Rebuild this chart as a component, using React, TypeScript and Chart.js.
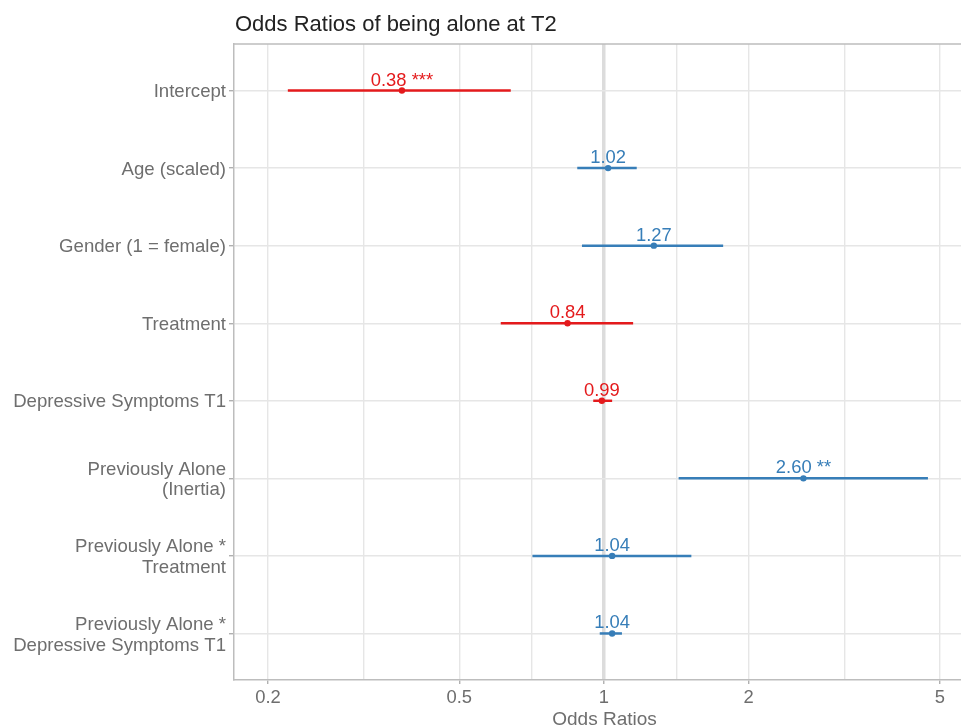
import { useEffect, useRef } from "react";
import { Chart, registerables } from "chart.js";

Chart.register(...registerables);

// Model terms, top to bottom
const termLabels: string[][] = [
  ["Intercept"],
  ["Age (scaled)"],
  ["Gender (1 = female)"],
  ["Treatment"],
  ["Depressive Symptoms T1"],
  ["Previously Alone", "(Inertia)"],
  ["Previously Alone *", "Treatment"],
  ["Previously Alone *", "Depressive Symptoms T1"],
];

// Estimates and 95% confidence intervals (odds ratio scale)
const oddsRatios = [0.38, 1.02, 1.27, 0.84, 0.99, 2.6, 1.04, 1.04];
const ciLow = [0.22, 0.88, 0.9, 0.61, 0.95, 1.43, 0.71, 0.98];
const ciHigh = [0.64, 1.17, 1.77, 1.15, 1.04, 4.72, 1.52, 1.09];
const significance = ["***", "", "", "", "", "**", "", ""];

// Log-scale breaks; minor grid lines sit halfway between majors (geometric mean)
const majorBreaks = [0.2, 0.5, 1, 2, 5];
const minorBreaks = majorBreaks.slice(1).map((b, i) => Math.sqrt(b * majorBreaks[i]));

const X_MIN = 0.17;
const X_MAX = 5.53;

const RED = "#e41a1c";
const BLUE = "#377eb8";
const GRID = "#e6e6e6";
const AXIS_LINE = "#bdbdbd";
const TEXT_GREY = "#6e6e6e";
const FONT = "'Liberation Sans', Arial, Helvetica, sans-serif";

const colorFor = (v: number) => (v < 1 ? RED : BLUE);

const annotations = {
  id: "forestAnnotations",
  afterDatasetsDraw(chart: any) {
    const { ctx, scales, chartArea } = chart;
    const xs = scales.x;
    const ys = scales.y;
    ctx.save();
    // value labels above each estimate
    ctx.font = `18.4px ${FONT}`;
    ctx.textAlign = "center";
    ctx.textBaseline = "alphabetic";
    oddsRatios.forEach((v, i) => {
      const px = xs.getPixelForValue(v);
      const py = ys.getPixelForValue(i);
      ctx.fillStyle = colorFor(v);
      const txt = v.toFixed(2) + (significance[i] ? " " + significance[i] : "");
      ctx.fillText(txt, px, py - 5);
    });
    // top panel edge
    ctx.strokeStyle = AXIS_LINE;
    ctx.lineWidth = 1.5;
    ctx.beginPath();
    ctx.moveTo(chartArea.left, chartArea.top);
    ctx.lineTo(chartArea.right, chartArea.top);
    ctx.stroke();
    ctx.restore();
  },
  afterDraw(chart: any) {
    const { ctx } = chart;
    ctx.save();
    ctx.fillStyle = "#222222";
    ctx.font = `22px ${FONT}`;
    ctx.textAlign = "left";
    ctx.textBaseline = "alphabetic";
    ctx.fillText("Odds Ratios of being alone at T2", 235, 31);
    ctx.fillStyle = TEXT_GREY;
    ctx.font = `19px ${FONT}`;
    ctx.textAlign = "center";
    ctx.fillText("Odds Ratios", 604.5, 725);
    ctx.restore();
  },
};

export default function App() {
  const canvasRef = useRef<HTMLCanvasElement | null>(null);

  useEffect(() => {
    const canvas = canvasRef.current;
    if (!canvas) return;

    const intervalSets = oddsRatios.map((v, i) => ({
      type: "scatter" as const,
      data: [
        { x: ciLow[i], y: i },
        { x: ciHigh[i], y: i },
      ],
      showLine: true,
      borderColor: colorFor(v),
      borderWidth: 2.5,
      pointRadius: 0,
      pointHoverRadius: 0,
    }));

    const pointSet = {
      type: "scatter" as const,
      data: oddsRatios.map((v, i) => ({ x: v, y: i })),
      pointBackgroundColor: oddsRatios.map(colorFor),
      pointBorderWidth: 0,
      pointRadius: 3.2,
      showLine: false,
    };

    const chart = new Chart(canvas, {
      type: "scatter",
      data: { datasets: [...intervalSets, pointSet] as any },
      options: {
        animation: false,
        responsive: false,
        devicePixelRatio: 1,
        layout: { autoPadding: false, padding: { top: 44, left: 0, right: 0, bottom: 0 } },
        plugins: {
          legend: { display: false },
          tooltip: { enabled: false },
          title: { display: false },
        },
        scales: {
          x: {
            type: "logarithmic",
            min: X_MIN,
            max: X_MAX,
            afterBuildTicks: (scale: any) => {
              scale.ticks = [...majorBreaks, ...minorBreaks]
                .sort((a, b) => a - b)
                .map((value) => ({ value }));
            },
            afterFit: (scale: any) => {
              scale.height = 48;
            },
            ticks: {
              autoSkip: false,
              maxRotation: 0,
              padding: 3,
              color: TEXT_GREY,
              font: { family: FONT, size: 18.4 },
              callback: (value: any) =>
                majorBreaks.includes(Number(value)) ? String(value) : "",
            },
            grid: {
              color: (c: any) => (c.tick && c.tick.value === 1 ? "#dcdcdc" : GRID),
              lineWidth: (c: any) => (c.tick && c.tick.value === 1 ? 3.5 : 1.4),
              tickLength: 4,
              tickWidth: 1.4,
              tickColor: (c: any) =>
                c.tick && majorBreaks.includes(c.tick.value) ? "#b0b0b0" : "rgba(0,0,0,0)",
            },
            border: { display: true, color: AXIS_LINE, width: 1.5 },
          },
          y: {
            type: "linear",
            reverse: true,
            min: -0.6,
            max: 7.6,
            afterBuildTicks: (scale: any) => {
              scale.ticks = termLabels.map((_, i) => ({ value: i }));
            },
            afterFit: (scale: any) => {
              scale.width = 234;
            },
            ticks: {
              autoSkip: false,
              padding: 3,
              labelOffset: 1.5,
              color: TEXT_GREY,
              font: { family: FONT, size: 18.6, lineHeight: 1.12 },
              callback: (value: any) => termLabels[Number(value)] ?? "",
            },
            grid: {
              color: GRID,
              lineWidth: 1.4,
              tickLength: 5,
              tickWidth: 1.4,
              tickColor: "#b0b0b0",
            },
            border: { display: true, color: AXIS_LINE, width: 1.5 },
          },
        },
      },
      plugins: [annotations],
    });

    return () => chart.destroy();
  }, []);

  return (
    <div style={{ position: "absolute", left: 0, top: 0, width: 961, height: 728, background: "#ffffff" }}>
      <canvas ref={canvasRef} width={961} height={728} style={{ display: "block" }} />
    </div>
  );
}
